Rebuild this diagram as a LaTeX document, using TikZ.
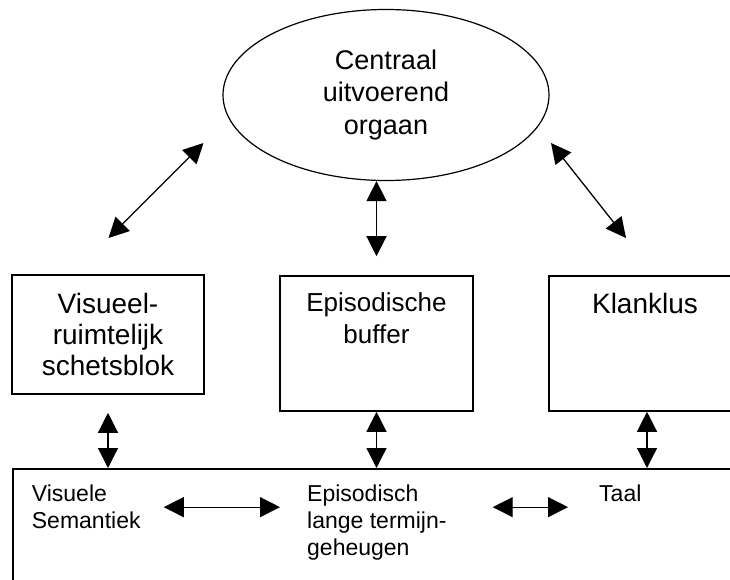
\documentclass[tikz,border=0pt]{standalone}
\usepackage{fontspec}
\setmainfont{Liberation Sans}
\usetikzlibrary{arrows.meta,shapes.geometric}

\tikzset{
  blok/.style={draw, line width=1.6pt, inner sep=0pt},
  biarrow/.style={{Triangle[length=20pt,width=20pt]}-{Triangle[length=20pt,width=20pt]}, line width=1.3pt},
  groot/.style={font=\fontsize{28}{31}\selectfont, align=center},
  klein/.style={font=\fontsize{23}{27}\selectfont, align=left, inner sep=0pt, anchor=north west}
}

\begin{document}
\begin{tikzpicture}[x=1pt, y=-1pt]
\useasboundingbox (0,0) rectangle (730,580);
% centraal uitvoerend orgaan
\node[ellipse, draw, line width=1.2pt, minimum width=326pt, minimum height=171pt, inner sep=0pt, font=\fontsize{27}{32.5}\selectfont, align=center] (ceo) at (386,95) {Centraal\\uitvoerend\\orgaan};

% slave systems
\node[blok, groot, minimum width=192.5pt, minimum height=119pt] (vrs) at (108,334.5) {Visueel-\\ruimtelijk\\schetsblok};
\node[blok, minimum width=193pt, minimum height=135pt] (epb) at (376.5,343.5) {};
\node[blok, minimum width=196pt, minimum height=135pt] (kl) at (647,343.5) {};
\node[font=\fontsize{26}{31.5}\selectfont, align=center, anchor=north, inner sep=0pt] (epbtxt) at (376.5,292.5) {Episodische\\buffer};
\node[groot, anchor=base, inner sep=0pt] (kltxt) at (645,313) {Klanklus};

% lange termijn geheugen
\node[blok, anchor=north west, minimum width=740pt, minimum height=140pt] (ltm) at (12,468) {};
\node[klein] (vissem) at (31.7,485) {Visuele\\Semantiek};
\node[klein] (eplt) at (307,485) {Episodisch\\lange termijn-\\geheugen};
\node[klein] (taal) at (599,485) {Taal};

% pijlen
\coordinate (vrsend) at (108.5,238);
\coordinate (ceol) at (203.5,143);
\coordinate (ceor) at (551,143);
\coordinate (klend) at (626,238);
\draw[biarrow] (vrsend) -- (ceol);
\draw[biarrow] (ceor) -- (klend);
\draw[biarrow, shorten >=19pt] (epb.north |- ceo.south) -- (epb.north);
\draw[biarrow, shorten <=18pt] (vrs.south) -- (vrs.south |- ltm.north);
\draw[biarrow] (epb.south) -- (epb.south |- ltm.north);
\draw[biarrow] (kl.south) -- (kl.south |- ltm.north);
\draw[biarrow, shorten <=23pt, shorten >=27pt] (vissem.east) -- (vissem.east -| eplt.west);
\draw[biarrow, shorten <=46pt, shorten >=31pt] (vissem.east -| eplt.east) -- (vissem.east -| taal.west);
\end{tikzpicture}
\end{document}
